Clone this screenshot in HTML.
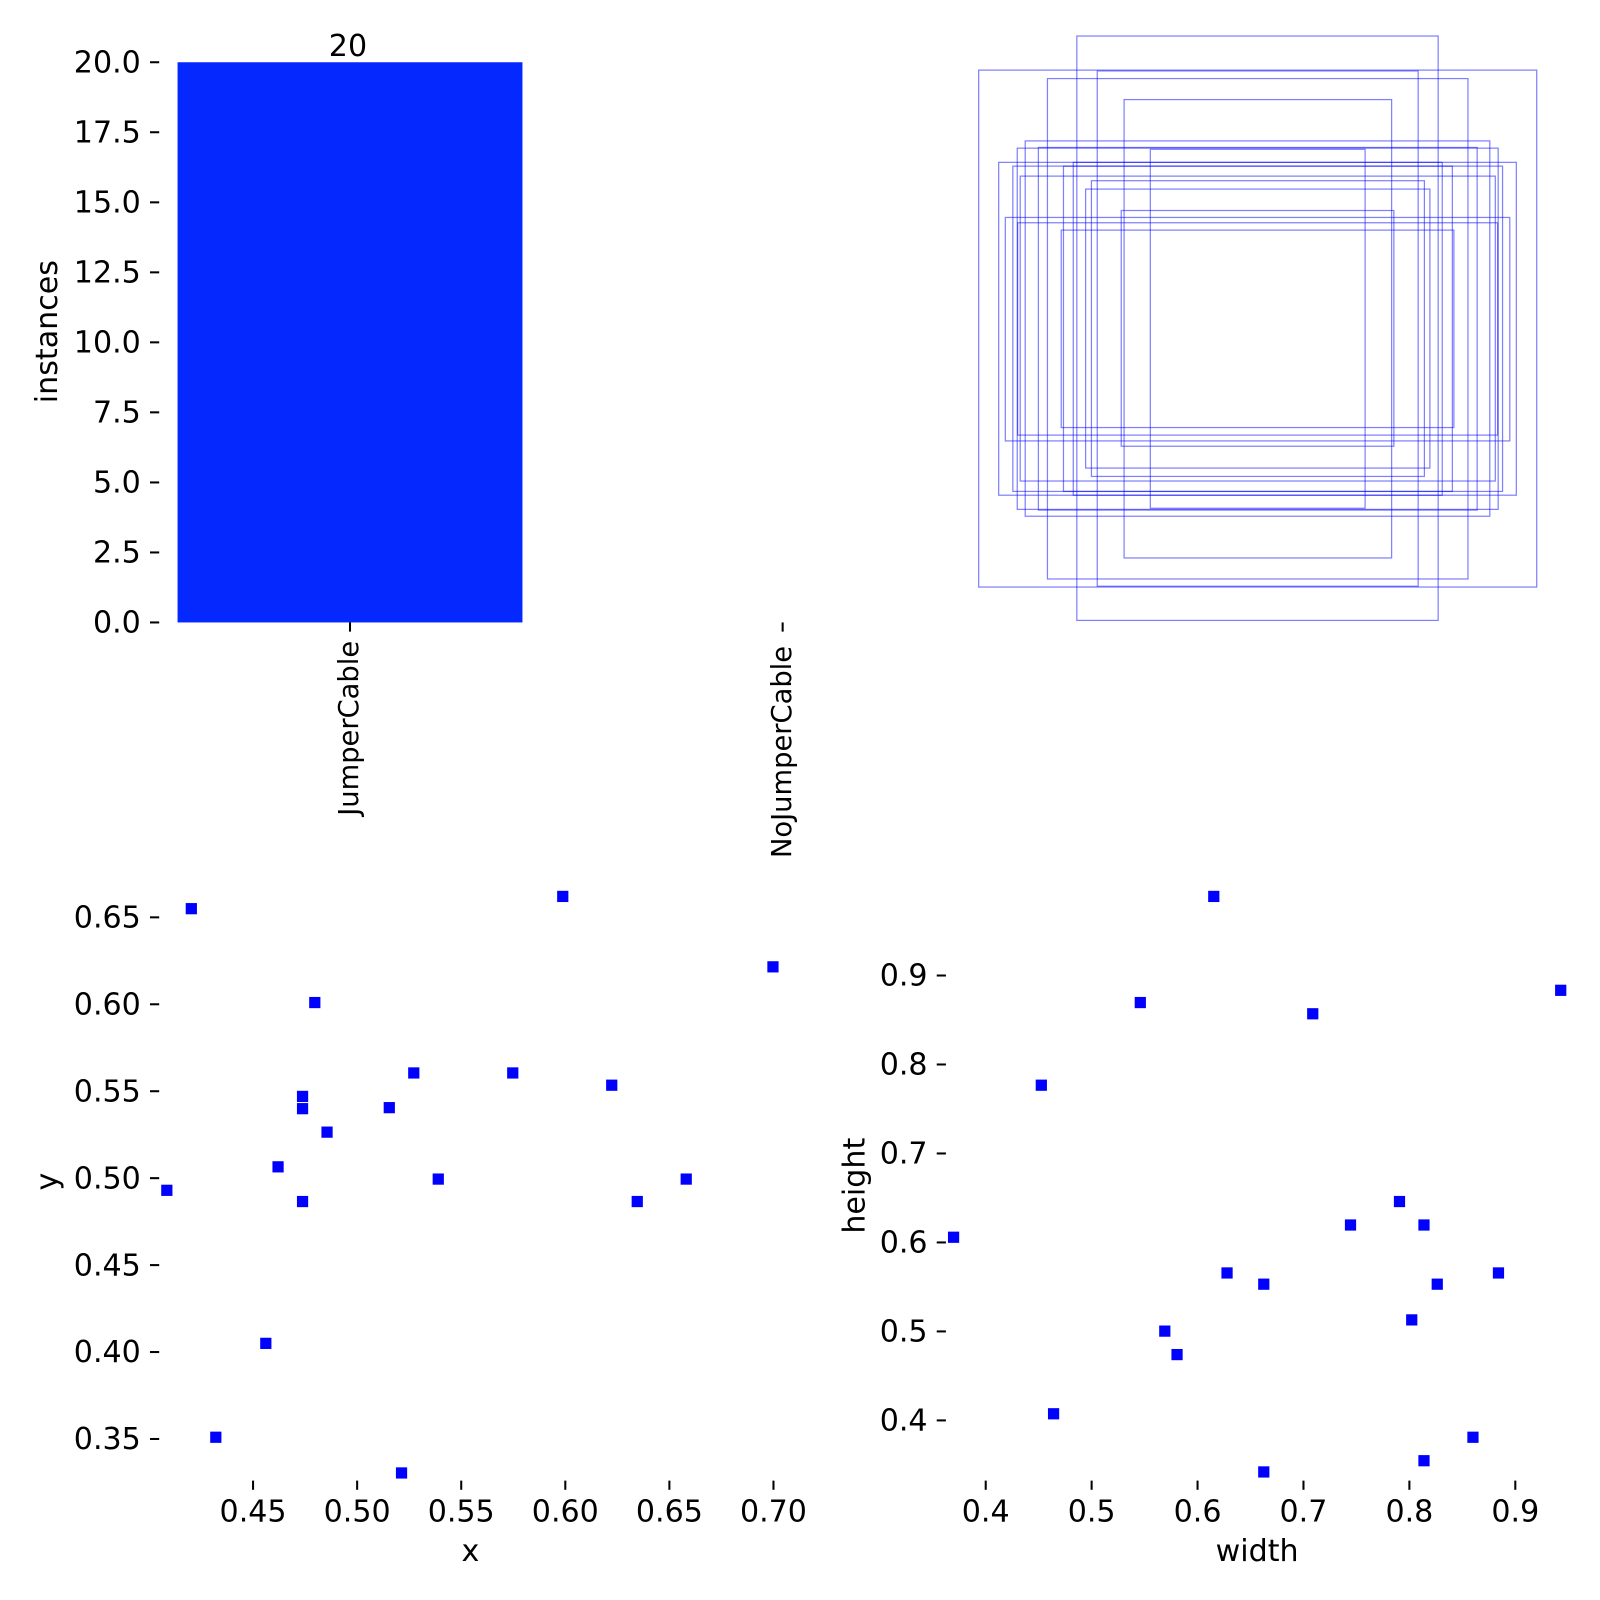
<!DOCTYPE html>
<html><head><meta charset="utf-8"><style>html,body{margin:0;padding:0;background:#fff}svg{display:block}</style></head>
<body>
<svg xmlns="http://www.w3.org/2000/svg" width="1600" height="1600" viewBox="0 0 1568 1568" font-family="DejaVu Sans, Liberation Sans, sans-serif" font-size="29.5" fill="#000">
<rect width="1568" height="1568" fill="#fff"/>
<rect x="174" y="61" width="338" height="549" fill="#0528ff"/>
<text x="341" y="55" text-anchor="middle">20</text>
<g stroke="#000" stroke-width="2">
<line x1="147" y1="61" x2="156" y2="61"/><line x1="147" y1="129.6" x2="156" y2="129.6"/>
<line x1="147" y1="198.3" x2="156" y2="198.3"/><line x1="147" y1="266.9" x2="156" y2="266.9"/>
<line x1="147" y1="335.5" x2="156" y2="335.5"/><line x1="147" y1="404.1" x2="156" y2="404.1"/>
<line x1="147" y1="472.8" x2="156" y2="472.8"/><line x1="147" y1="541.4" x2="156" y2="541.4"/>
<line x1="147" y1="610" x2="156" y2="610"/>
<line x1="343" y1="610" x2="343" y2="619"/><line x1="767" y1="610" x2="767" y2="619"/>
</g>
<g text-anchor="end">
<text x="138" y="71">20.0</text><text x="138" y="139.6">17.5</text><text x="138" y="208.3">15.0</text>
<text x="138" y="276.9">12.5</text><text x="138" y="345.5">10.0</text><text x="138" y="414.1">7.5</text>
<text x="138" y="482.8">5.0</text><text x="138" y="551.4">2.5</text><text x="138" y="620">0.0</text>
<text transform="translate(351,628) rotate(-90)" font-size="26.8">JumperCable</text>
<text transform="translate(775,633) rotate(-90)" font-size="26.8">NoJumperCable</text>
</g>
<text transform="translate(56,325) rotate(-90)" text-anchor="middle">instances</text>
<g fill="none" stroke="#0000ff" stroke-opacity="0.5" stroke-width="1.2">
<rect x="959.1" y="68.7" width="546.9" height="506.6"/>
<rect x="1055.3" y="35.3" width="354.1" height="572.7"/>
<rect x="1075.3" y="69.5" width="314.5" height="505"/>
<rect x="1026.5" y="77" width="412.1" height="490.4"/>
<rect x="1101.6" y="97.6" width="262.2" height="449.2"/>
<rect x="1004.7" y="138.1" width="455.3" height="367.8"/>
<rect x="1017.6" y="144.5" width="430" height="355.4"/>
<rect x="996.9" y="145.2" width="471.3" height="354"/>
<rect x="1127.3" y="146.3" width="210.5" height="351.8"/>
<rect x="978.7" y="159.1" width="507.3" height="326.2"/>
<rect x="1051.8" y="159.1" width="361.6" height="326.2"/>
<rect x="992.6" y="162.8" width="479.9" height="318.8"/>
<rect x="1042.2" y="162.8" width="381.1" height="318.8"/>
<rect x="999.8" y="172.6" width="465.6" height="298.8"/>
<rect x="1069.6" y="177.1" width="326.3" height="289.8"/>
<rect x="1063.9" y="185.3" width="337.4" height="273.4"/>
<rect x="1098.8" y="206.3" width="267.2" height="231"/>
<rect x="985.2" y="213.1" width="494.4" height="219"/>
<rect x="997.3" y="218.3" width="470.4" height="208.1"/>
<rect x="1040" y="225.5" width="384.8" height="193.5"/>
</g>
<g stroke="#000" stroke-width="2">
<line x1="147" y1="899" x2="156" y2="899"/><line x1="147" y1="984.2" x2="156" y2="984.2"/>
<line x1="147" y1="1069.4" x2="156" y2="1069.4"/><line x1="147" y1="1154.6" x2="156" y2="1154.6"/>
<line x1="147" y1="1239.8" x2="156" y2="1239.8"/><line x1="147" y1="1325" x2="156" y2="1325"/>
<line x1="147" y1="1410.2" x2="156" y2="1410.2"/>
<line x1="248" y1="1451" x2="248" y2="1460"/><line x1="350" y1="1451" x2="350" y2="1460"/>
<line x1="452" y1="1451" x2="452" y2="1460"/><line x1="554" y1="1451" x2="554" y2="1460"/>
<line x1="656" y1="1451" x2="656" y2="1460"/><line x1="758" y1="1451" x2="758" y2="1460"/>
</g>
<g text-anchor="end">
<text x="138" y="909">0.65</text><text x="138" y="994.2">0.60</text><text x="138" y="1079.4">0.55</text>
<text x="138" y="1164.6">0.50</text><text x="138" y="1249.8">0.45</text><text x="138" y="1335">0.40</text>
<text x="138" y="1420.2">0.35</text>
</g>
<g text-anchor="middle">
<text x="248" y="1491">0.45</text><text x="350" y="1491">0.50</text><text x="452" y="1491">0.55</text>
<text x="554" y="1491">0.60</text><text x="656" y="1491">0.65</text><text x="758" y="1491">0.70</text>
<text x="461" y="1530">x</text>
</g>
<text transform="translate(56,1158) rotate(-90)" text-anchor="middle">y</text>
<g fill="#0000ff">
<rect x="182" y="885" width="11" height="11"/><rect x="546" y="873" width="11" height="11"/>
<rect x="752" y="942" width="11" height="11"/><rect x="303" y="977" width="11" height="11"/>
<rect x="400" y="1046" width="11" height="11"/><rect x="497" y="1046" width="11" height="11"/>
<rect x="594" y="1058" width="11" height="11"/><rect x="291" y="1069" width="11" height="11"/>
<rect x="291" y="1081" width="11" height="11"/><rect x="376" y="1080" width="11" height="11"/>
<rect x="315" y="1104" width="11" height="11"/><rect x="267" y="1138" width="11" height="11"/>
<rect x="158" y="1161" width="11" height="11"/><rect x="424" y="1150" width="11" height="11"/>
<rect x="667" y="1150" width="11" height="11"/><rect x="291" y="1172" width="11" height="11"/>
<rect x="619" y="1172" width="11" height="11"/><rect x="255" y="1311" width="11" height="11"/>
<rect x="206" y="1403" width="11" height="11"/><rect x="388" y="1438" width="11" height="11"/>
</g>
<g stroke="#000" stroke-width="2">
<line x1="918" y1="956" x2="927" y2="956"/><line x1="918" y1="1043.2" x2="927" y2="1043.2"/>
<line x1="918" y1="1130.4" x2="927" y2="1130.4"/><line x1="918" y1="1217.6" x2="927" y2="1217.6"/>
<line x1="918" y1="1304.8" x2="927" y2="1304.8"/><line x1="918" y1="1392" x2="927" y2="1392"/>
<line x1="966" y1="1451" x2="966" y2="1460"/><line x1="1069.8" y1="1451" x2="1069.8" y2="1460"/>
<line x1="1173.6" y1="1451" x2="1173.6" y2="1460"/><line x1="1277.4" y1="1451" x2="1277.4" y2="1460"/>
<line x1="1381.2" y1="1451" x2="1381.2" y2="1460"/><line x1="1485" y1="1451" x2="1485" y2="1460"/>
</g>
<g text-anchor="end">
<text x="909" y="966">0.9</text><text x="909" y="1053.2">0.8</text><text x="909" y="1140.4">0.7</text>
<text x="909" y="1227.6">0.6</text><text x="909" y="1314.8">0.5</text><text x="909" y="1402">0.4</text>
</g>
<g text-anchor="middle">
<text x="966" y="1491">0.4</text><text x="1069.8" y="1491">0.5</text><text x="1173.6" y="1491">0.6</text>
<text x="1277.4" y="1491">0.7</text><text x="1381.2" y="1491">0.8</text><text x="1485" y="1491">0.9</text>
<text x="1232" y="1530">width</text>
</g>
<text transform="translate(847,1162) rotate(-90)" text-anchor="middle">height</text>
<g fill="#0000ff">
<rect x="1184" y="873" width="11" height="11"/><rect x="1524" y="965" width="11" height="11"/>
<rect x="1112" y="977" width="11" height="11"/><rect x="1281" y="988" width="11" height="11"/>
<rect x="1015" y="1058" width="11" height="11"/><rect x="929" y="1207" width="11" height="11"/>
<rect x="1366" y="1172" width="11" height="11"/><rect x="1318" y="1195" width="11" height="11"/>
<rect x="1390" y="1195" width="11" height="11"/><rect x="1197" y="1242" width="11" height="11"/>
<rect x="1463" y="1242" width="11" height="11"/><rect x="1233" y="1253" width="11" height="11"/>
<rect x="1403" y="1253" width="11" height="11"/><rect x="1378" y="1288" width="11" height="11"/>
<rect x="1136" y="1299" width="11" height="11"/><rect x="1148" y="1322" width="11" height="11"/>
<rect x="1027" y="1380" width="11" height="11"/><rect x="1438" y="1403" width="11" height="11"/>
<rect x="1390" y="1426" width="11" height="11"/><rect x="1233" y="1437" width="11" height="11"/>
</g>
</svg>
</body></html>
